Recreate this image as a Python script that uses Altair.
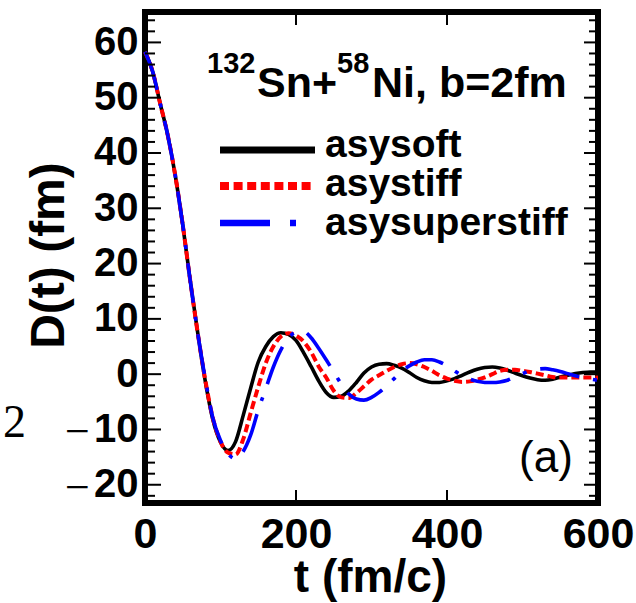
import altair as alt
import pandas as pd

# Dipole oscillation D(t) for 132Sn + 58Ni at b = 2 fm, three symmetry-energy stiffnesses
t_fm = list(range(0, 601, 10))
d_asysoft = [58.3, 54.8, 49.0, 43.3, 36.0, 27.0, 16.8, 7.3, -1.4, -8.3,
             -12.3, -13.8, -12.2, -7.5, -2.5, 2.2, 5.0, 6.8, 7.5, 7.2,
             6.1, 3.9, 1.4, -1.2, -3.3, -4.2, -4.0, -3.0, -1.5, 0.2,
             1.3, 1.8, 1.9, 1.6, 1.1, 0.3, -0.6, -1.2, -1.5, -1.5,
             -1.2, -0.8, -0.2, 0.4, 0.9, 1.2, 1.3, 1.1, 0.7, 0.2,
             -0.3, -0.7, -1.0, -1.1, -0.9, -0.5, -0.2, 0.1, 0.3, 0.4, 0.4]
d_asystiff = [58.3, 54.8, 49.0, 43.3, 36.0, 27.0, 16.8, 7.3, -1.2, -8.0,
              -12.2, -14.2, -14.5, -11.8, -7.0, -2.3, 2.0, 5.0, 6.8, 7.4,
              7.0, 5.9, 4.0, 1.4, -0.6, -3.0, -4.2, -4.3, -3.4, -2.2,
              -1.0, -0.2, 0.6, 1.3, 1.8, 2.0, 1.8, 1.3, 0.6, -0.2,
              -0.8, -1.2, -1.4, -1.3, -1.0, -0.6, 0.0, 0.6, 0.8, 0.8,
              0.6, 0.4, 0.1, -0.2, -0.5, -0.6, -0.6, -0.6, -0.6, -0.6, -0.6]
d_asysuperstiff = [58.3, 54.8, 49.0, 43.3, 36.0, 27.0, 16.8, 7.3, -1.0, -8.0,
                   -12.0, -14.4, -15.3, -14.0, -11.0, -6.5, -2.6, 1.3, 4.4, 6.5,
                   7.6, 7.7, 6.6, 4.7, 2.6, 0.4, -1.8, -3.6, -4.5, -4.7,
                   -4.2, -3.3, -2.1, -0.8, 0.5, 1.5, 2.2, 2.6, 2.6, 2.2,
                   1.5, 0.6, -0.3, -0.9, -1.3, -1.5, -1.5, -1.4, -1.1, -0.5,
                   0.1, 0.6, 0.9, 1.0, 0.8, 0.5, 0.1, -0.3, -0.6, -0.9, -1.1]

series_names = ["asysoft", "asystiff", "asysuperstiff"]
x_labels = [0, 200, 400, 600]
y_labels = [-20, -10, 0, 10, 20, 30, 40, 50, 60]
y_minor = [-22, -18, -16, -14, -12, -8, -6, -4, -2, 2, 4, 6, 8, 12, 14, 16, 18,
           22, 24, 26, 28, 32, 34, 36, 38, 42, 44, 46, 48, 52, 54, 56, 58, 62, 64]
x_inner = [200, 400]
negative_labels = [-10, -20]

W, H = 453, 491
FONT = "Liberation Sans"
SERIF = "Liberation Serif"

x_scale = alt.Scale(domain=[0, 600], nice=False, zero=False)
y_scale = alt.Scale(domain=[-23.3, 65.5], nice=False, zero=False)

x_axis = alt.Axis(
    values=x_labels, title="t (fm/c)", grid=False, ticks=False, tickSize=0, domain=False,
    labelFont=FONT, labelFontSize=43, labelFontWeight="bold", labelColor="black",
    labelPadding=10, labelFlush=False, labelOverlap=False,
    titleFont=FONT, titleFontSize=46, titleFontWeight="bold", titleColor="black",
    titleX=225, titleY=88, titleAlign="center", titleBaseline="alphabetic",
)
y_axis = alt.Axis(
    values=y_labels, title="D(t) (fm)", grid=False, ticks=False, tickSize=0, domain=False,
    labelExpr="format(abs(datum.value), 'd')",
    labelFont=FONT, labelFontSize=40, labelFontWeight="bold", labelColor="black",
    labelPadding=7, labelOverlap=False,
    titleFont=FONT, titleFontSize=48, titleFontWeight="bold", titleColor="black",
    titleX=-82, titleY=243, titleAngle=270, titleAlign="center", titleBaseline="alphabetic",
)

# every layer that uses the shared scales carries the same axis definition
X = lambda field: alt.X(field, type="quantitative", scale=x_scale, axis=x_axis)
Y = lambda field: alt.Y(field, type="quantitative", scale=y_scale, axis=y_axis)


def curve(values, color, width, dash=None):
    df = pd.DataFrame({"t": t_fm, "D": values})
    mark_kw = dict(color=color, strokeWidth=width, interpolate="monotone")
    if dash:
        mark_kw["strokeDash"] = dash
    return alt.Chart(df).mark_line(**mark_kw).encode(x=X("t"), y=Y("D"))


line_soft = curve(d_asysoft, "black", 3.6)
line_stiff = curve(d_asystiff, "#ff0000", 4, dash=[8, 4])
line_super = curve(d_asysuperstiff, "#0000ff", 3.6, dash=[40, 14, 4, 14])

# inward ticks on all four sides of the frame
major_df = pd.DataFrame({"D": y_labels})
minor_df = pd.DataFrame({"D": y_minor})
xin_df = pd.DataFrame({"t": x_inner})


def ytick(df, x0, x1):
    return alt.Chart(df).mark_rule(color="black", strokeWidth=2).encode(
        y=Y("D"), x=alt.value(x0), x2=alt.value(x1))


def xtick(y0, y1):
    return alt.Chart(xin_df).mark_rule(color="black", strokeWidth=2).encode(
        x=X("t"), y=alt.value(y0), y2=alt.value(y1))


ticks = [
    ytick(major_df, 0, 16), ytick(minor_df, 0, 10),
    ytick(major_df, W, W - 14), ytick(minor_df, W, W - 9),
    xtick(H, H - 13), xtick(0, 13),
]

# thin serif minus signs in front of the negative tick labels
minus_signs = alt.Chart(pd.DataFrame({"D": negative_labels})).mark_text(
    font=SERIF, fontSize=44, align="center", baseline="middle", dy=4, color="black"
).encode(y=Y("D"), x=alt.value(-67.5), text=alt.value("\u2212"))

one = alt.Data(values=[{}])


def label(text, x, y, size, weight="bold", font=FONT, align="left"):
    return alt.Chart(one).mark_text(
        font=font, fontSize=size, fontWeight=weight, align=align, baseline="alphabetic", color="black"
    ).encode(x=alt.value(x), y=alt.value(y), text=alt.value(text))


title_parts = [
    label("132", 62, 61, 29),
    label("Sn+", 112, 85, 43),
    label("58", 192, 61, 29),
    label("Ni, b=2fm", 227, 85, 43),
]

legend_rows = [(series_names[0], "black", None, 7, 138, 145),
               (series_names[1], "#ff0000", [9, 4.6], 8, 174, 184),
               (series_names[2], "#0000ff", [50, 20, 6, 19], 6.5, 211, 223)]
legend_layers = []
for name, color, dash, width, ly, ty in legend_rows:
    kw = dict(color=color, strokeWidth=width)
    if dash:
        kw["strokeDash"] = dash
    legend_layers.append(alt.Chart(one).mark_rule(**kw).encode(
        x=alt.value(75), x2=alt.value(170), y=alt.value(ly)))
    legend_layers.append(label(name, 180, ty, 39))

panel_tag = label("(a)", 401, 460, 44, weight="normal", align="center")
page_number = label("2", -142, 425, 46, weight="normal", font=SERIF)

chart = alt.layer(
    line_soft, line_stiff, line_super, *ticks, minus_signs,
    *title_parts, *legend_layers, panel_tag, page_number,
).properties(
    width=W, height=H,
    autosize=alt.AutoSizeParams(type="none"),
    padding={"left": 145, "top": 12, "right": 38, "bottom": 100},
    background="white",
).configure_view(stroke="black", strokeWidth=6)

chart.save("out.html", embed_options={"renderer": "svg", "actions": False})
